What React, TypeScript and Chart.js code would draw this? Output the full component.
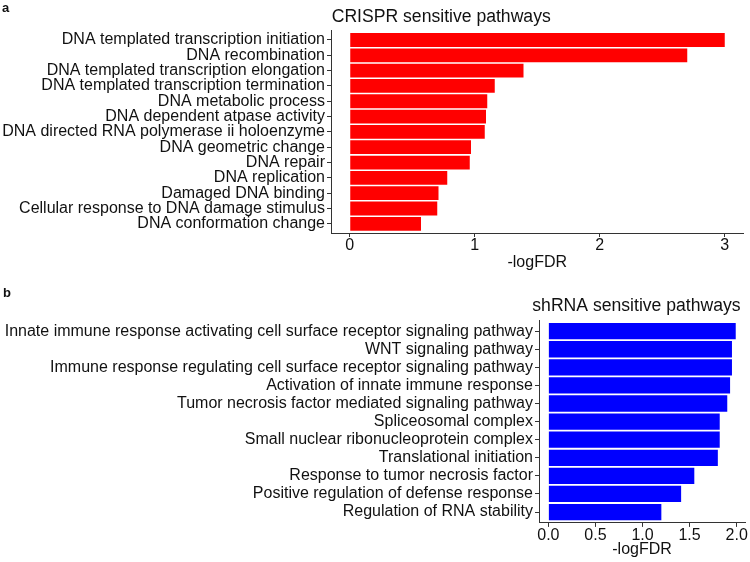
import React, { useEffect, useRef } from "react";
import { Chart, registerables } from "chart.js";
Chart.register(...registerables);

const crisprPathways = [
  "DNA templated transcription initiation",
  "DNA recombination",
  "DNA templated transcription elongation",
  "DNA templated transcription termination",
  "DNA metabolic process",
  "DNA dependent atpase activity",
  "DNA directed RNA polymerase ii holoenzyme",
  "DNA geometric change",
  "DNA repair",
  "DNA replication",
  "Damaged DNA binding",
  "Cellular response to DNA damage stimulus",
  "DNA conformation change",
];
const crisprValues = [3.0, 2.7, 1.39, 1.16, 1.1, 1.09, 1.08, 0.97, 0.96, 0.78, 0.71, 0.7, 0.57];
const crisprTicks = [0, 1, 2, 3];

const shrnaPathways = [
  "Innate immune response activating cell surface receptor signaling pathway",
  "WNT signaling pathway",
  "Immune response regulating cell surface receptor signaling pathway",
  "Activation of innate immune response",
  "Tumor necrosis factor mediated signaling pathway",
  "Spliceosomal complex",
  "Small nuclear ribonucleoprotein complex",
  "Translational initiation",
  "Response to tumor necrosis factor",
  "Positive regulation of defense response",
  "Regulation of RNA stability",
];
const shrnaValues = [1.99, 1.95, 1.95, 1.93, 1.9, 1.82, 1.82, 1.8, 1.55, 1.41, 1.2];
const shrnaTicks = [0, 0.5, 1.0, 1.5, 2.0];

const FONT = "'Liberation Sans', Arial, Helvetica, sans-serif";
const TEXT = "#111111";
const LINE = "#333333";
const W = 750;
const H = 281;

type Panel = {
  labels: string[];
  values: number[];
  ticks: number[];
  decimals: number;
  color: string;
  title: string;
  tag: string;
  leftWidth: number;
  padTop: number;
  padRight: number;
  xHeight: number;
  xTitlePad: number;
  titleDx: number;
  titleBase: number;
  tagX: number;
  tagY: number;
};

function buildConfig(p: Panel): any {
  const maxV = Math.max(...p.values);
  const n = p.labels.length;
  return {
    type: "bar",
    data: {
      datasets: [
        {
          data: p.values.map((v, i) => ({ x: v, y: i })),
          backgroundColor: p.color,
          borderWidth: 0,
          categoryPercentage: 1,
          barPercentage: 0.9,
        },
      ],
    },
    options: {
      indexAxis: "y",
      animation: false,
      responsive: false,
      maintainAspectRatio: false,
      layout: { padding: { left: 0, top: p.padTop, right: p.padRight, bottom: 0 } },
      plugins: { legend: { display: false }, tooltip: { enabled: false }, title: { display: false } },
      scales: {
        x: {
          type: "linear",
          position: "bottom",
          offset: false,
          min: -0.05 * maxV,
          max: 1.05 * maxV,
          afterBuildTicks: (s: any) => {
            s.ticks = p.ticks.map((v) => ({ value: v }));
          },
          afterFit: (s: any) => {
            s.height = p.xHeight;
          },
          ticks: {
            autoSkip: false,
            maxRotation: 0,
            padding: 0.5,
            color: TEXT,
            font: { family: FONT, size: 16, lineHeight: 1 },
            callback: (v: any) => Number(v).toFixed(p.decimals),
          },
          grid: { display: true, offset: false, drawOnChartArea: false, drawTicks: true, tickLength: 4, color: LINE, lineWidth: 1 },
          border: { display: true, color: LINE, width: 1 },
          title: {
            display: true,
            text: "-logFDR",
            color: TEXT,
            font: { family: FONT, size: 16, lineHeight: 1.2 },
            padding: { top: 0, bottom: p.xTitlePad },
          },
        },
        y: {
          type: "linear",
          position: "left",
          reverse: true,
          offset: false,
          min: -0.6,
          max: n - 1 + 0.6,
          afterBuildTicks: (s: any) => {
            s.ticks = p.labels.map((_, i) => ({ value: i }));
          },
          afterFit: (s: any) => {
            s.width = p.leftWidth;
          },
          ticks: {
            autoSkip: false,
            padding: 2,
            color: TEXT,
            font: { family: FONT, size: 16, lineHeight: 1 },
            callback: (v: any) => p.labels[Math.round(Number(v))] ?? "",
          },
          grid: { display: true, offset: false, drawOnChartArea: false, drawTicks: true, tickLength: 4, color: LINE, lineWidth: 1 },
          border: { display: true, color: LINE, width: 1 },
        },
      },
    },
    plugins: [
      {
        id: "panelText",
        afterDraw(chart: any) {
          const ctx = chart.ctx;
          ctx.save();
          ctx.fillStyle = TEXT;
          ctx.textBaseline = "alphabetic";
          ctx.textAlign = "left";
          ctx.font = `17.6px ${FONT}`;
          ctx.fillText(p.title, chart.chartArea.left + p.titleDx, p.titleBase);
          ctx.font = `bold 13px ${FONT}`;
          ctx.fillText(p.tag, p.tagX, p.tagY);
          ctx.restore();
        },
      },
    ],
  };
}

const topPanel: Panel = {
  labels: crisprPathways,
  values: crisprValues,
  ticks: crisprTicks,
  decimals: 0,
  color: "#FF0000",
  title: "CRISPR sensitive pathways",
  tag: "a",
  leftWidth: 331,
  padTop: 30.8,
  padRight: 6.5,
  xHeight: 48,
  xTitlePad: 8.5,
  titleDx: 0.7,
  titleBase: 22,
  tagX: 2,
  tagY: 12,
};

const bottomPanel: Panel = {
  labels: shrnaPathways,
  values: shrnaValues,
  ticks: shrnaTicks,
  decimals: 1,
  color: "#0000FF",
  title: "shRNA sensitive pathways",
  tag: "b",
  leftWidth: 539,
  padTop: 39.3,
  padRight: 4.9,
  xHeight: 39.1,
  xTitlePad: 2.5,
  titleDx: -6.7,
  titleBase: 30,
  tagX: 3,
  tagY: 16,
};

function PanelChart({ panel }: { panel: Panel }) {
  const ref = useRef<HTMLCanvasElement | null>(null);
  useEffect(() => {
    if (!ref.current) return;
    const chart = new Chart(ref.current, buildConfig(panel));
    return () => chart.destroy();
  }, [panel]);
  return <canvas ref={ref} width={W} height={H} style={{ display: "block", width: W, height: H }} />;
}

export default function App() {
  return (
    <div style={{ position: "absolute", left: 0, top: 0, width: W, height: 562, background: "#ffffff" }}>
      <PanelChart panel={topPanel} />
      <PanelChart panel={bottomPanel} />
    </div>
  );
}
